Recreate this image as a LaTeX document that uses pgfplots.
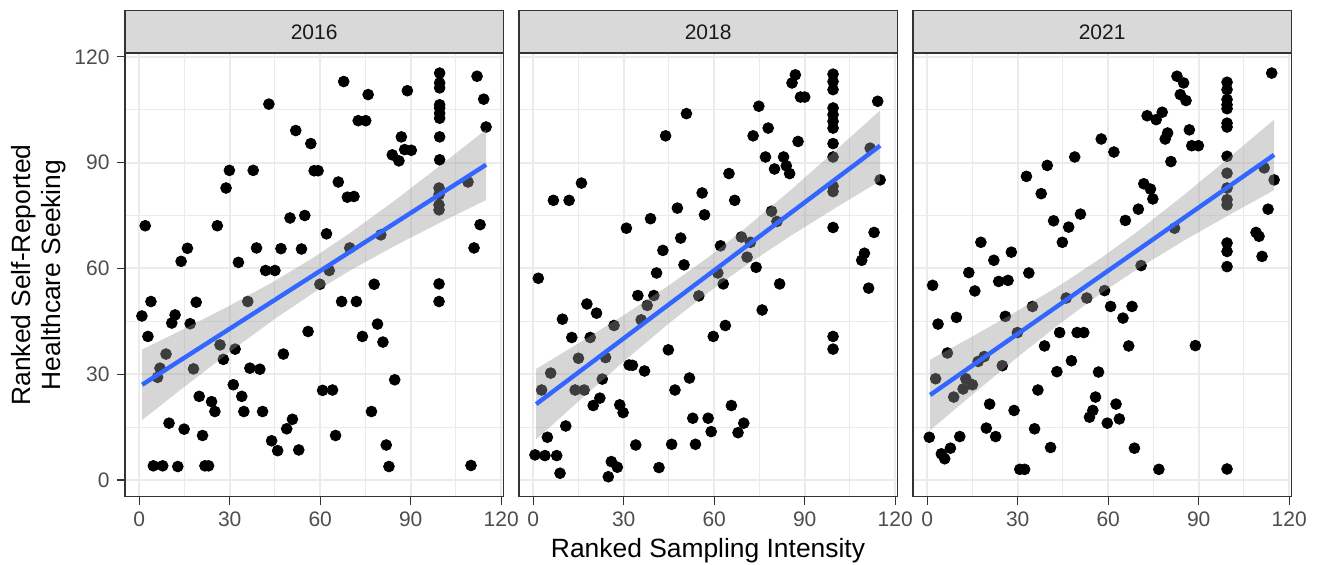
\documentclass[border=0pt]{standalone}
\usepackage{fontspec}
\setmainfont{Liberation Sans}
\usepackage{pgfplots}
\pgfplotsset{compat=1.18}
\definecolor{grey10}{HTML}{1A1A1A}
\definecolor{grey20}{HTML}{333333}
\definecolor{grey30}{HTML}{4D4D4D}
\definecolor{grey60}{HTML}{999999}
\definecolor{grey85}{HTML}{D9D9D9}
\definecolor{grey92}{HTML}{EBEBEB}
\definecolor{smoothblue}{HTML}{3366FF}

\pgfplotsset{
  facet/.style={
    scale only axis, width=189.15pt, height=221.75pt,
    anchor=south west, clip=false, clip marker paths=true,
    xmin=-4.7, xmax=120.7, ymin=-4.7, ymax=121.1,
    xtick={0,30,60,90,120}, ytick={0,30,60,90,120},
    minor xtick={15,45,75,105}, minor ytick={15,45,75,105},
    grid=both,
    major grid style={grey92, line width=1pt},
    minor grid style={grey92, line width=0.5pt},
    minor tick length=0pt,
    tick align=outside,
    major tick length=4.2pt,
    xtick pos=lower, ytick pos=left,
    tick style={grey20, line width=0.6pt},
    axis line style={grey20, line width=0.8pt},
    tick label style={font=\fontsize{10.5}{12}\selectfont, text=grey30},
    /pgf/number format/assume math mode=true,
  },
  pts/.style={only marks, mark=*, mark size=2.7pt, mark options={draw=none, fill=black}},
  band/.style={draw=none, fill=grey60, fill opacity=0.4},
  fitline/.style={smoothblue, line width=2.2pt},
}
\newcommand{\strip}[1]{%
  \draw[fill=grey85, draw=grey20, line width=0.8pt] (rel axis cs:0,1) rectangle ([yshift=21.2pt]rel axis cs:1,1);
  \node[anchor=base, font=\fontsize{10.5}{12}\selectfont, text=grey10] at ([yshift=6.5pt]rel axis cs:0.5,1) {#1};
}

\begin{document}
\begin{tikzpicture}
\path[use as bounding box] (0,0) rectangle (659pt,282.5pt);

% ---------------- 2016 ----------------
\begin{axis}[facet, at={(62.5pt,34.25pt)}]
\addplot[pts] table {
99.6 115.4
99.6 112.6
99.6 111.2
112 114.5
67.8 113
75.9 109.3
88.9 110.4
114.2 108
43 106.6
99.6 106.4
99.6 105.5
99.6 104
99.6 102.6
72.6 101.9
75.1 101.9
51.9 99.1
115 100.1
56.9 95.4
86.9 97.3
99.6 97.3
83.9 92.2
86.1 90.5
88 93.7
90.2 93.5
99.6 90.8
29.9 87.8
37.8 87.8
58 87.7
59.3 87.7
28.8 82.8
66 84.5
69 80.2
71.2 80.4
99.4 82.8
99.4 80.9
109 84.5
99.4 78
99.4 76.6
2 72.1
25.9 72.1
50 74.3
54.9 75
62.1 69.8
113 72.4
16 65.7
13.9 62
32.9 61.7
38.9 65.8
47 65.6
53.8 65.5
69.8 65.8
80.1 69.5
111 65.8
41.9 59.4
45 59.4
63 59.4
59.9 55.5
77.9 55.5
99.4 55.6
99.4 50.6
3.9 50.6
18.9 50.4
36 50.6
67.1 50.6
72 50.6
0.9 46.5
11.9 46.8
10.8 44.5
16.9 44.3
56 42.1
79 44.2
2.9 40.7
74 40.7
80.8 39.1
8.9 35.7
26.8 38.3
31.8 37.1
27.9 34.2
47.8 35.7
6.9 31.7
6.1 29.1
18 31.5
36.7 31.7
40 31.4
84.7 28.4
31.2 27
19.9 23.7
34 23.7
24 22.2
25.1 19.4
34.7 19.4
40.9 19.4
60.8 25.4
64.1 25.5
77 19.4
9.9 16.1
14.9 14.4
21 12.6
48.9 14.5
50.8 17.2
43.9 11.1
45.9 8.3
52.9 8.5
65.1 12.6
81.9 9.9
82.8 3.8
4.7 4
7.8 4
12.8 3.8
21.8 4
23 4
110 4.1
};
\addplot[band] coordinates {(1,37.0) (15,42.89) (30,49.43) (45,56.46) (58,63.2) (70,70.09) (85,79.44) (100,89.3) (115,99.4)
 (115,79.4) (100,73.08) (85,66.52) (70,59.45) (58,53.2) (45,45.7) (30,36.31) (15,26.43) (1,17.0)} -- cycle;
\addplot[fitline] coordinates {(1,27.0) (115,89.4)};
\strip{2016}
\end{axis}

% ---------------- 2018 ----------------
\begin{axis}[facet, at={(259.5pt,34.25pt)}, yticklabels={}, ytick style={draw=none}]
\addplot[pts] table {
86.9 114.9
85.8 112.6
99.4 115.1
99.4 113
99.4 110.7
88.6 108.6
90 108.6
114.2 107.4
74.8 106
50.8 103.9
99.4 105.5
99.4 103.6
99.4 101.7
99.4 99.8
77.9 99.8
43.9 97.6
72.9 97.6
87.8 96
99.4 95.4
111.7 94.1
99.4 91.6
77 91.6
83 91.6
83.9 89.1
80 88.2
85 86.9
64.9 86.9
115 85.1
99.4 83.3
99.4 81.8
16 84.2
6.7 79.3
11.9 79.3
56 81.4
66.8 79.3
47.8 77.1
56.8 75.2
38.9 74.1
79 76.2
80.8 73.3
30.9 71.4
99.4 71.6
113 70.2
48.9 68.6
69 68.9
72 67.4
62.1 66.4
43 65.1
109.8 64.3
108.9 62.3
50 61
70.9 63.2
73.9 60.3
40.9 58.7
61.2 58.7
1.7 57.2
63 55.6
81.7 55.6
111.2 54.4
54.9 52.2
34.7 52.3
40 52.3
37.8 49.5
17.8 49.9
21 47.3
9.7 45.6
75.9 48.2
35.8 45.4
26.8 43.8
63.7 43.8
12.8 40.4
18.9 40.4
59.7 40.7
99.4 40.7
99.4 37.1
44.8 36.9
15 34.5
24 34.7
31.8 32.6
32.9 32.5
36.9 30.9
5.8 30.3
22.9 28.6
2.8 25.5
13.9 25.5
16.9 25.5
51.8 28.9
47 25.5
22.1 23.2
19.9 21.1
28.7 21.3
29.8 19.1
65.7 21.1
52.9 17.5
58 17.5
59 13.7
69.8 16.1
67.9 13.4
10.8 15.3
4.7 12.1
45.9 10.1
53.8 10.1
34 9.9
0.6 7.1
3.9 6.9
7.8 6.9
8.9 1.9
25.9 5.2
27.9 3.6
24.9 0.9
41.7 3.5
};
\addplot[band] coordinates {(1,31.5) (15,38.73) (30,46.71) (45,55.18) (58,63.15) (70,71.19) (85,81.96) (100,93.27) (115,104.8)
 (115,84.8) (100,77.05) (85,69.04) (70,60.55) (58,53.15) (45,44.42) (30,33.59) (15,22.27) (1,11.5)} -- cycle;
\addplot[fitline] coordinates {(1,21.5) (115,94.8)};
\strip{2018}
\end{axis}

% ---------------- 2021 ----------------
\begin{axis}[facet, at={(456.5pt,34.25pt)}, yticklabels={}, ytick style={draw=none}]
\addplot[pts] table {
82.8 114.5
85 112.6
114.2 115.4
99.4 112.8
99.4 110.7
83.9 109.3
85.8 107.6
99.4 107.9
99.4 106.4
99.4 105.3
99.4 101.2
99.4 100.1
72.9 103.3
75.9 102.2
77.9 104.3
79.7 98.4
78.9 96.7
86.9 99.3
87.7 94.8
89.9 94.8
57.7 96.7
61.9 93
48.9 91.6
99.4 91.8
80.8 90.3
39.8 89.2
32.9 86.1
37.8 81.2
71.8 84
74 82.5
74.8 79.7
99.4 87
111.7 88.5
115 85.1
99.4 82.8
99.4 79.5
99.4 78
70 76.8
65.7 73.6
41.9 73.5
50.8 75.4
46.9 71.7
113 76.8
82 71.4
109 70.2
110 69.1
17.8 67.4
44.8 67.4
99.4 67.2
99.4 64.8
27.9 64.6
22.1 62.3
111 63.4
70.9 60.8
99.4 60.5
13.8 58.8
33.7 58.7
1.8 55.2
23.7 56.3
26.8 56.6
15.8 53.6
3.6 44.2
9.7 46.1
25.9 46.4
34.9 49.2
46.1 51.6
52.9 51.6
58.8 53.7
60.8 49.2
67.9 49.2
64.9 45.9
29.9 41.8
43.9 41.8
49.7 41.8
51.9 41.8
38.9 38
66.8 38
88.9 38.1
6.7 36
16.9 33.6
18.9 35
24.9 32.4
47.8 33.8
43 30.7
56.8 30.6
2.8 28.7
12.8 28.7
11.9 25.8
15 27
8.8 23.5
36.7 25.5
20.7 21.5
28.8 19.7
55.8 23.5
54.9 19.7
53.8 17.8
62.6 21.5
63.7 17.3
59.7 16.1
19.6 14.7
22.7 12.3
35.6 14.5
0.7 12.1
10.8 12.3
7.7 9
4.7 7.4
5.8 6
40.9 9.2
68.7 9
30.7 3
32.3 3
76.8 3
99.4 3.1
};
\addplot[band] coordinates {(1,34.1) (15,40.69) (30,47.98) (45,55.76) (58,63.15) (70,70.64) (85,80.74) (100,91.35) (115,102.2)
 (115,82.2) (100,75.13) (85,67.82) (70,60.0) (58,53.15) (45,45.0) (30,34.86) (15,24.23) (1,14.1)} -- cycle;
\addplot[fitline] coordinates {(1,24.1) (115,92.2)};
\strip{2021}
\end{axis}

\node[rotate=90, anchor=base, font=\fontsize{13.2}{15}\selectfont] at (15.35pt,145pt) {Ranked Self-Reported};
\node[rotate=90, anchor=base, font=\fontsize{13.2}{15}\selectfont] at (30pt,145pt) {Healthcare Seeking};
\node[anchor=base, font=\fontsize{13.2}{15}\selectfont] at (354pt,3.85pt) {Ranked Sampling Intensity};
\end{tikzpicture}
\end{document}
